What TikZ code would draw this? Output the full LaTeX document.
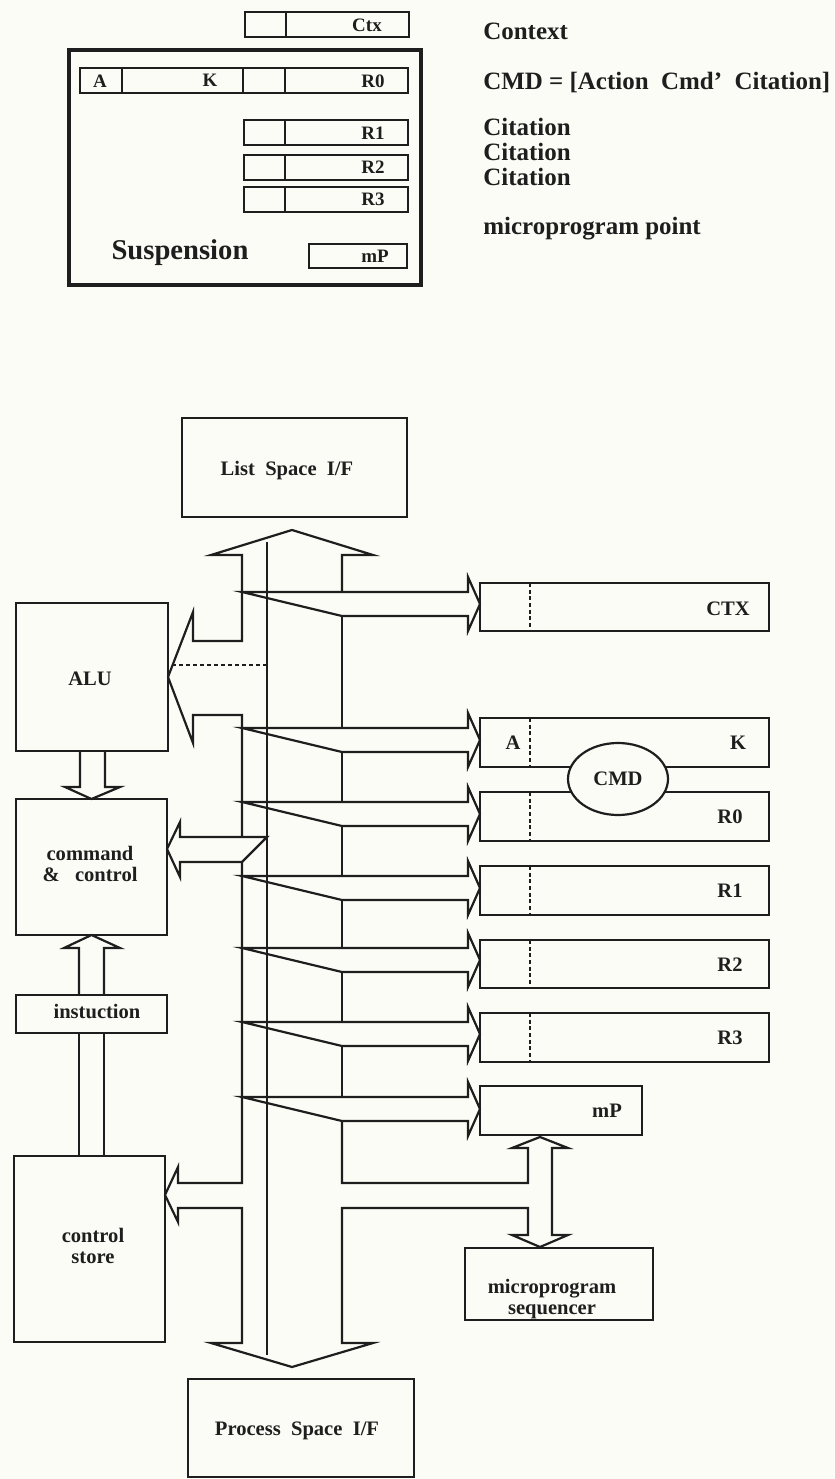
\documentclass[tikz,border=0pt]{standalone}
\usepackage{fontspec}
\setmainfont{Liberation Serif}
\usetikzlibrary{positioning,fit,shapes.geometric}
\definecolor{Ink}{HTML}{1E1E1E}
\definecolor{Paper}{HTML}{FCFCF6}

\begin{document}
\begin{tikzpicture}[
  x=0.2mm, y=-0.2mm,
  line join=miter,
  box/.style={draw=Ink,line width=1.25pt,inner sep=0pt,outer sep=0pt},
  reg/.style={draw=Ink,line width=1.2pt,inner sep=0pt,outer sep=0pt},
  susp/.style={draw=Ink,line width=0.8mm,inner sep=0pt,outer sep=0pt},
  lbl/.style={text=Ink,inner sep=0pt,align=center,font=\fontsize{11.7}{12.2}\selectfont\bfseries},
  toplbl/.style={text=Ink,inner sep=0pt,font=\fontsize{10.8}{11}\selectfont\bfseries},
  remark/.style={text=Ink,inner sep=0pt,anchor=base west,font=\fontsize{14.2}{14.2}\selectfont\bfseries},
  fat/.style={draw=Ink,line width=1.25pt},
  divider/.style={draw=Ink,line width=1.2pt},
  ddivider/.style={draw=Ink,line width=1.2pt,dash pattern=on 2.2pt off 1.6pt}
]
\path[use as bounding box,fill=Paper] (0,0) rectangle (834,1479);

% suspension record
\node[susp, fit={(69,50) (421,285)}] (susp) {};
\node[reg, fit={(245,12) (409,37)}] (ctxtop) {};
\node[reg, fit={(80,68) (408,93)}] (r0top) {};
\node[reg, fit={(244,120) (408,145)}] (r1top) {};
\node[reg, fit={(244,155) (408,180)}] (r2top) {};
\node[reg, fit={(244,187) (408,212)}] (r3top) {};
\node[reg, fit={(309,244) (407,268)}] (mptop) {};
\draw[divider] (286,12) -- (286,37);
\draw[divider] (122,68) -- (122,93) (243,68) -- (243,93) (285,68) -- (285,93);
\draw[divider] (285,120) -- (285,145) (285,155) -- (285,180) (285,187) -- (285,212);
\node[toplbl] (ctxlbl) at (367,25) {Ctx};
\node[toplbl] (alblt) at (100,81) {A};
\node[toplbl] (klblt) at (210,80) {K};
\node[toplbl] (r0lblt) at (373,81) {R0};
\node[toplbl] (r1lblt) at (373,133) {R1};
\node[toplbl] (r2lblt) at (373,167) {R2};
\node[toplbl] (r3lblt) at (373,199) {R3};
\node[toplbl] (mplblt) at (375,256) {mP};
\node[lbl, anchor=base, font=\fontsize{16.3}{16}\selectfont\bfseries] (susplbl) at (180,260) {Suspension};

% legend
\node[remark] (ctxnote) at (483,40) {Context};
\node[remark] (cmdnote) at (483,90) {CMD = [Action\ \ Cmd'\ \ Citation]};
\node[remark] (cit1) at (483,136) {Citation};
\node[remark] (cit2) at (483,161) {Citation};
\node[remark] (cit3) at (483,186) {Citation};
\node[remark] (mpnote) at (483,235) {microprogram point};

% blocks
\node[box, fit={(182,418) (407,517)}] (lsif) {};
\node[box, fit={(16,603) (168,751)}] (alu) {};
\node[box, fit={(16,799) (167,935)}] (cc) {};
\node[box, fit={(16,995) (167,1033)}] (instr) {};
\node[box, fit={(14,1156) (165,1342)}] (cstore) {};
\node[box, fit={(188,1379) (414,1477)}] (psif) {};
\node[box, fit={(465,1248) (653,1320)}] (seq) {};
\node[lbl] (lsiflbl) at (287,471) {List\ \ Space\ \ I/F};
\node[lbl] (alulbl) at (90,679) {ALU};
\node[lbl] (cclbl) at (90,864) {command\\\&\ \ \ control};
\node[lbl] (instrlbl) at (97,1011) {instuction};
\node[lbl] (cstorelbl) at (93,1246) {control\\store};
\node[lbl] (psiflbl) at (297,1431) {Process\ \ Space\ \ I/F};
\node[lbl] (seqlbl) at (552,1299) {microprogram\\sequencer};

% registers
\node[reg, fit={(480,583) (769,631)}] (ctx) {};
\node[reg, fit={(480,718) (769,767)}] (ak) {};
\node[reg, fit={(480,792) (769,841)}] (r0) {};
\node[reg, fit={(480,866) (769,915)}] (r1) {};
\node[reg, fit={(480,940) (769,988)}] (r2) {};
\node[reg, fit={(480,1013) (769,1062)}] (r3) {};
\node[reg, fit={(480,1086) (642,1135)}] (mp) {};
\draw[ddivider] (530,583) -- (530,631) (530,718) -- (530,767) (530,792) -- (530,841);
\draw[ddivider] (530,866) -- (530,915) (530,940) -- (530,988) (530,1013) -- (530,1062);
\node[lbl] (ctxlbl2) at (728,609) {CTX};
\node[lbl] (albl) at (513,743) {A};
\node[lbl] (klbl) at (738,743) {K};
\node[lbl] (r0lbl) at (730,817) {R0};
\node[lbl] (r1lbl) at (730,891) {R1};
\node[lbl] (r2lbl) at (730,965) {R2};
\node[lbl] (r3lbl) at (730,1038) {R3};
\node[lbl] (mplbl) at (607,1111) {mP};
\node[lbl, ellipse, draw=Ink, line width=1.25pt, fill=Paper, minimum width=20mm, minimum height=14.4mm] (cmd) at (618,779) {CMD};

% bus
\draw[fat] (342,592) -- (342,555) -- (373,555) -- (292,530) -- (211,555) -- (242,555) -- (242,641) -- (193,641) -- (193,612) -- (alu.east) -- (193,743) -- (193,715) -- (242,715) -- (242,837);
\draw[fat] (267,837) -- (180,837) -- (180,822) -- (167,849) -- (180,877) -- (180,862) -- (242,862) -- cycle;
\draw[fat] (242,862) -- (242,1183) -- (178,1183) -- (178,1167) -- (165,1195) -- (178,1222) -- (178,1208) -- (242,1208) -- (242,1343) -- (211,1343) -- (292,1367) -- (373,1343) -- (342,1343) -- (342,1208) -- (528,1208) -- (528,1235) -- (512,1235) -- (540,1247) -- (568,1235) -- (552,1235) -- (552,1148) -- (568,1148) -- (540,1137) -- (512,1148) -- (528,1148) -- (528,1183) -- (342,1183) -- (342,1121);
\draw[fat] (267,542) -- (267,1355);
\draw[fat, dash pattern=on 2.3pt off 1.7pt] (172,665) -- (267,665);
\draw[fat] (342,616) -- (342,728) (342,752) -- (342,802) (342,826) -- (342,876) (342,900) -- (342,948) (342,972) -- (342,1022) (342,1046) -- (342,1097);

% branches to registers
\draw[fat] (242,592) -- (468,592) -- (468,577) -- (480,604) -- (468,631) -- (468,616) -- (342,616) -- cycle;
\draw[fat] (242,728) -- (468,728) -- (468,713) -- (480,740) -- (468,767) -- (468,752) -- (342,752) -- cycle;
\draw[fat] (242,802) -- (468,802) -- (468,787) -- (480,814) -- (468,841) -- (468,826) -- (342,826) -- cycle;
\draw[fat] (242,876) -- (468,876) -- (468,861) -- (480,888) -- (468,915) -- (468,900) -- (342,900) -- cycle;
\draw[fat] (242,948) -- (468,948) -- (468,933) -- (480,960) -- (468,987) -- (468,972) -- (342,972) -- cycle;
\draw[fat] (242,1022) -- (468,1022) -- (468,1007) -- (480,1034) -- (468,1061) -- (468,1046) -- (342,1046) -- cycle;
\draw[fat] (242,1097) -- (468,1097) -- (468,1082) -- (480,1109) -- (468,1136) -- (468,1121) -- (342,1121) -- cycle;

% left column arrows
\draw[fat] (80,751) -- (80,787) -- (65,787) -- (cc.north) -- (120,787) -- (105,787) -- (105,751);
\draw[fat] (79,995) -- (79,948) -- (64,948) -- (cc.south) -- (120,948) -- (104,948) -- (104,995);
\draw[fat] (79,1033) -- (79,1156) (104,1033) -- (104,1156);
\end{tikzpicture}
\end{document}
